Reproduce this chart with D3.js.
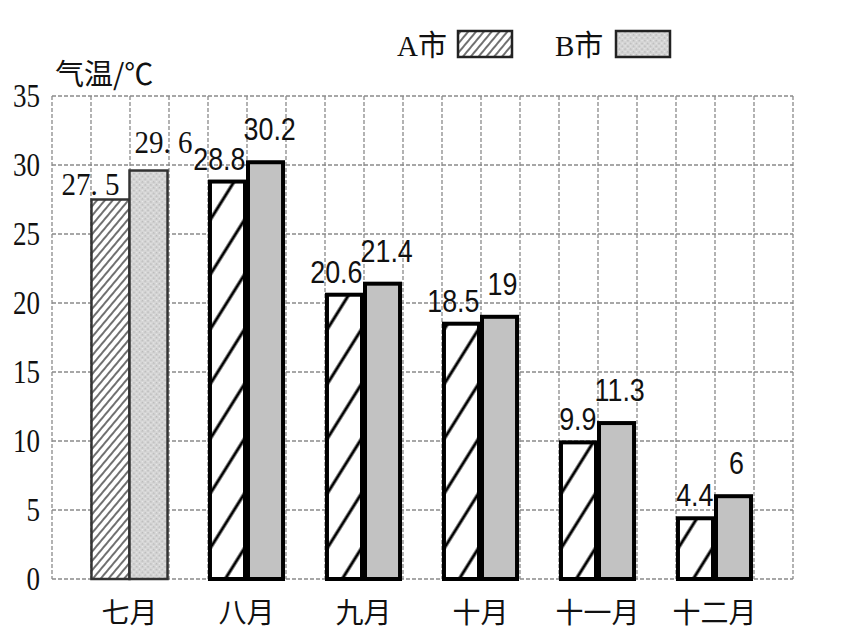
<!DOCTYPE html>
<html><head><meta charset="utf-8">
<script src="https://cdn.jsdelivr.net/npm/d3@7"></script>
<style>html,body{margin:0;padding:0;background:#fff;}</style>
</head><body>
<svg id="c" width="858" height="630"></svg>
<script>
const months = ["七月","八月","九月","十月","十一月","十二月"];
const cityA = [27.5, 28.8, 20.6, 18.5, 9.9, 4.4];
const cityB = [29.6, 30.2, 21.4, 19, 11.3, 6];
const labelsA = ["27. 5","28.8","20.6","18.5","9.9","4.4"];
const labelsB = ["29. 6","30.2","21.4","19","11.3","6"];
const seriesNames = ["A市","B市"];
const yTicks = [0,5,10,15,20,25,30,35];
const yTitle = "气温/℃";

(function(){
const svg = d3.select("#c");
const pL = 52, pR = 793, pT = 96, pB = 579;
const y = d3.scaleLinear().domain([0,35]).range([pB, pT]);
const x = d3.scaleBand().domain(months).range([71,773]).paddingInner(0.35).paddingOuter(0.175);
const xs = d3.scaleBand().domain([0,1]).range([0, x.bandwidth()]);
const gridX = d3.scaleLinear().domain([0,19]).range([pL,pR]);

const defs = svg.append("defs");
const p1 = defs.append("pattern").attr("id","hatchDense").attr("patternUnits","userSpaceOnUse")
  .attr("width",6).attr("height",6).attr("patternTransform","rotate(40)");
p1.append("rect").attr("width",6).attr("height",6).attr("fill","#fff");
p1.append("line").attr("x1",1).attr("y1",0).attr("x2",1).attr("y2",6).attr("stroke","#333").attr("stroke-width",1.4);
const p2 = defs.append("pattern").attr("id","hatchSparse").attr("patternUnits","userSpaceOnUse")
  .attr("width",29).attr("height",10).attr("patternTransform","rotate(32)");
p2.append("rect").attr("width",29).attr("height",10).attr("fill","#fff");
p2.append("line").attr("x1",2).attr("y1",0).attr("x2",2).attr("y2",10).attr("stroke","#000").attr("stroke-width",3);
const p3 = defs.append("pattern").attr("id","stipple").attr("patternUnits","userSpaceOnUse")
  .attr("width",4).attr("height",4).attr("patternTransform","rotate(45)");
p3.append("rect").attr("width",4).attr("height",4).attr("fill","#d6d6d6");
p3.append("rect").attr("width",1.5).attr("height",1.5).attr("fill","#b8b8b8");
p3.append("rect").attr("x",2).attr("y",2).attr("width",1).attr("height",1).attr("fill","#ececec");

const grid = svg.append("g").attr("stroke","#8a8a8a").attr("stroke-width",1.3).attr("stroke-dasharray","4,2").attr("fill","none");
grid.selectAll("line.v").data(d3.range(0,20)).join("line").attr("class","v")
  .attr("x1",d=>gridX(d)).attr("x2",d=>gridX(d)).attr("y1",pT).attr("y2",pB);
grid.selectAll("line.h").data(yTicks).join("line").attr("class","h")
  .attr("x1",pL).attr("x2",pR).attr("y1",d=>y(d)).attr("y2",d=>y(d));

const yAxis = d3.axisLeft(y).tickValues(yTicks).tickSize(0).tickPadding(0);
const ya = svg.append("g").attr("transform",`translate(40,0)`).call(yAxis);
ya.select(".domain").remove();
ya.selectAll("text").attr("font-family","Liberation Serif, serif").attr("font-size",33).attr("fill","#111")
  .attr("dy","0.33em")
  .attr("textLength",d=>String(d).length*13.5).attr("lengthAdjust","spacingAndGlyphs");

svg.append("text").attr("x",55).attr("y",85).attr("font-family","Noto Sans CJK SC, sans-serif").attr("font-weight",400)
  .attr("font-size",29).attr("fill","#111").text(yTitle);

const data = months.map((m,i)=>({m, i, vals:[cityA[i],cityB[i]], labels:[labelsA[i],labelsB[i]]}));
const groups = svg.append("g").selectAll("g").data(data).join("g").attr("transform",d=>`translate(${x(d.m)},0)`);
groups.each(function(d){
  const g = d3.select(this);
  const first = d.i===0;
  [0,1].forEach(k=>{
    const v = d.vals[k];
    let fill;
    if (first) fill = k===0 ? "url(#hatchDense)" : "url(#stipple)";
    else fill = k===0 ? "url(#hatchSparse)" : "#c2c2c2";
    g.append("rect")
      .attr("x", xs(k) + (first?0:1.5)).attr("width", xs.bandwidth() - (first?0:3))
      .attr("y", y(v)).attr("height", y(0)-y(v))
      .attr("fill", fill).attr("stroke", first?"#333":"#000").attr("stroke-width", first?2.5:4);
  });
  [0,1].forEach(k=>{
    const v = d.vals[k];
    const lab = d.labels[k];
    const t = g.append("text").attr("fill","#111").text(lab);
    if (first) {
      t.attr("font-family","Liberation Serif, serif").attr("font-size",31)
       .attr("textLength", 58).attr("lengthAdjust","spacingAndGlyphs");
      if (k===0) t.attr("text-anchor","end").attr("x", xs(0)+xs.bandwidth()-10).attr("y", y(v)-5);
      else t.attr("text-anchor","start").attr("x", xs(1)+5).attr("y", y(v)-18);
    } else {
      t.attr("font-family","Liberation Sans, sans-serif").attr("font-size",32);
      const len = t.node().getComputedTextLength();
      t.attr("textLength", len*0.84).attr("lengthAdjust","spacingAndGlyphs");
      if (k===0) t.attr("text-anchor","end").attr("x", xs(0)+xs.bandwidth()-1).attr("y", y(v)-12);
      else if (lab.length>2) t.attr("text-anchor","start").attr("x", xs(1)-3).attr("y", y(v)-22);
      else t.attr("text-anchor","middle").attr("x", xs(1)+xs.bandwidth()/2+3).attr("y", y(v)-22);
    }
  });
});

svg.append("g").selectAll("text").data(months).join("text")
  .attr("x",d=>x(d)+x.bandwidth()/2).attr("y",623).attr("text-anchor","middle")
  .attr("font-family","Noto Sans CJK SC, sans-serif").attr("font-weight",400).attr("font-size",28).attr("fill","#111")
  .text(d=>d);

const legend = svg.append("g");
const legX = [397, 555];
seriesNames.forEach((n,k)=>{
  legend.append("text").attr("x",legX[k]).attr("y",56).attr("font-family","Liberation Serif, Noto Sans CJK SC, serif")
    .attr("font-size",29).attr("fill","#111").text(n);
  legend.append("rect").attr("x",legX[k]+61).attr("y",31).attr("width",54).attr("height",26)
    .attr("fill", k===0?"url(#hatchDense)":"url(#stipple)").attr("stroke","#222").attr("stroke-width",2.5);
});
})();
</script>
</body></html>
